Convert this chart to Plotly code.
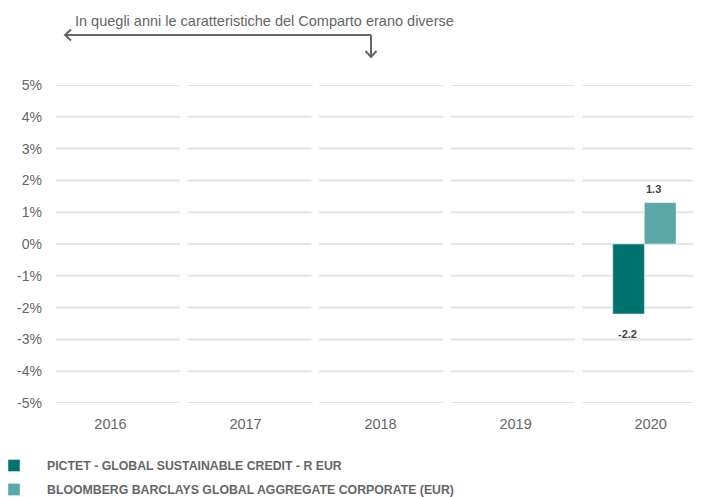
import plotly.graph_objects as go

# data
years = [2016, 2017, 2018, 2019, 2020]
fund = [None, None, None, None, -2.2]
benchmark = [None, None, None, None, 1.3]
series_names = [
    'PICTET - GLOBAL SUSTAINABLE CREDIT - R EUR',
    'BLOOMBERG BARCLAYS GLOBAL AGGREGATE CORPORATE (EUR)',
]
y_ticks = [-5, -4, -3, -2, -1, 0, 1, 2, 3, 4, 5]
note_text = 'In quegli anni le caratteristiche del Comparto erano diverse'

DARK = '#00736f'
LIGHT = '#5ba7a7'
GREY = '#666666'
FONT = 'Liberation Sans, Arial, sans-serif'

# the page body adds an 8px margin, so work in page pixels and subtract it
OFF = 8
PLOT_L, PLOT_R, PLOT_T, PLOT_B = 52, 701, 85, 403
L = PLOT_L - OFF
T = PLOT_T - OFF
R = 701 - (PLOT_R - OFF)
B = 497 - (PLOT_B - OFF)
W = PLOT_R - PLOT_L
H = PLOT_B - PLOT_T


def px_x(p):
    return (p - PLOT_L) / W


def px_y(q):
    return (PLOT_B - q) / H


figure = go.Figure()

figure.add_trace(
    go.Bar(
        x=years,
        y=fund,
        name=series_names[0],
        marker_color=DARK,
        legendgroup='a',
        hoverinfo='skip'
    )
)

figure.add_trace(
    go.Bar(
        x=years,
        y=benchmark,
        name=series_names[1],
        marker_color=LIGHT,
        legendgroup='b',
        hoverinfo='skip'
    )
)

# invisible trace to carry the (slightly shifted) year labels
figure.add_trace(
    go.Scatter(
        x=years,
        y=[None] * len(years),
        xaxis='x2',
        showlegend=False,
        hoverinfo='skip'
    )
)

# segmented gridlines
shapes = []
for yr in years:
    for v in y_ticks:
        shapes.append(dict(
            type='line', xref='x', yref='y',
            x0=yr - 0.471, x1=yr + 0.471, y0=v, y1=v,
            line=dict(color='#e4e4e4', width=2),
            layer='below'
        ))

# arrow of the note
arrow_path = (
    f'M {px_x(371)},{px_y(35)} L {px_x(65)},{px_y(35)} '
    f'M {px_x(71)},{px_y(29.5)} L {px_x(65)},{px_y(35)} L {px_x(71)},{px_y(40.5)} '
    f'M {px_x(371)},{px_y(35)} L {px_x(371)},{px_y(57)} '
    f'M {px_x(365.5)},{px_y(51)} L {px_x(371)},{px_y(57)} L {px_x(376.5)},{px_y(51)}'
)
shapes.append(dict(
    type='path', xref='paper', yref='paper', path=arrow_path,
    line=dict(color=GREY, width=2)
))

annotations = [
    dict(
        text=note_text, xref='paper', yref='paper',
        x=px_x(73), y=px_y(21), xanchor='left', yanchor='middle',
        showarrow=False, font=dict(size=14.5, color=GREY)
    )
]

# value labels
for values, shift, pos in [(fund, -16.5, 'below'), (benchmark, 9.5, 'above')]:
    for yr, v in zip(years, values):
        if v is None:
            continue
        annotations.append(dict(
            text=f'{v:.1f}', x=yr, y=v, xref='x', yref='y',
            xshift=shift, yshift=14 if pos == 'above' else -20,
            showarrow=False, yanchor='middle',
            font=dict(size=11, color='#444444', weight='bold')
        ))

figure.update_layout(
    width=701,
    height=497,
    barmode='group',
    bargap=0.52,
    bargroupgap=0,
    margin=dict(l=L, r=R, t=T, b=B, autoexpand=False),
    plot_bgcolor='white',
    paper_bgcolor='white',
    font=dict(family=FONT, size=13, color=GREY),
    shapes=shapes,
    annotations=annotations,
    legend=dict(
        orientation='v',
        x=px_x(-19), xanchor='left',
        y=px_y(451), yanchor='top',
        itemwidth=56,
        tracegroupgap=5,
        font=dict(size=12.3, color=GREY, weight='bold'),
        bgcolor='rgba(0,0,0,0)'
    ),
    xaxis=dict(
        range=[2015.5, 2020.43],
        showgrid=False,
        zeroline=False,
        showticklabels=False,
        fixedrange=True
    ),
    xaxis2=dict(
        overlaying='x',
        anchor='y',
        side='bottom',
        range=[2015.567, 2020.373],
        tickmode='array',
        tickvals=years,
        ticktext=[str(y) for y in years],
        showgrid=False,
        zeroline=False,
        ticklabelstandoff=10,
        tickfont=dict(size=14.5, color=GREY)
    ),
    yaxis=dict(
        range=[-5, 5],
        tickmode='array',
        tickvals=y_ticks,
        ticktext=[f'{v}%' for v in y_ticks],
        showgrid=False,
        zeroline=False,
        ticklabelstandoff=9,
        tickfont=dict(size=14, color=GREY)
    )
)

figure.write_html('out.html')
